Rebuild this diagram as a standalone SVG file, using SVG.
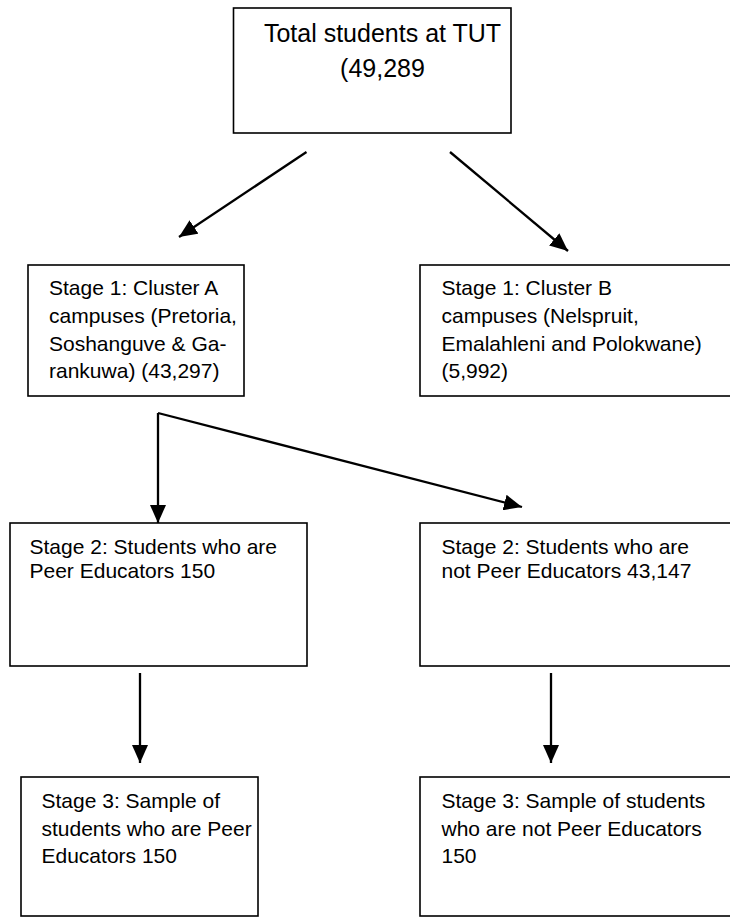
<svg xmlns="http://www.w3.org/2000/svg" width="730" height="920" viewBox="0 0 730 920">
<defs>
<style>
.box{fill:#fff;stroke:#000;stroke-width:1.6}
.t{font-family:"Liberation Sans",Arial,sans-serif;font-size:21px;fill:#000}
.tt{font-family:"Liberation Sans",Arial,sans-serif;font-size:25px;fill:#000}
.c{fill:none;stroke:#000;stroke-width:2.3}
</style>
<marker id="ah" markerUnits="userSpaceOnUse" markerWidth="18" markerHeight="16" refX="18" refY="8" orient="auto">
<path d="M0,0 L18,8 L0,16 z" fill="#000"/>
</marker>
</defs>
<rect width="730" height="920" fill="#fff"/>
<g id="top">
<rect class="box" x="233.5" y="8" width="277.5" height="125"/>
<text class="tt" x="382.5" y="42" text-anchor="middle">Total students at TUT</text>
<text class="tt" x="382.5" y="77" text-anchor="middle">(49,289</text>
</g>
<g id="stage1a">
<rect class="box" x="28" y="265" width="216" height="131"/>
<text class="t" x="49" y="295">Stage 1: Cluster A</text>
<text class="t" x="49" y="323">campuses (Pretoria,</text>
<text class="t" x="49" y="351">Soshanguve &amp; Ga-</text>
<text class="t" x="49" y="378">rankuwa) (43,297)</text>
</g>
<g id="stage1b">
<rect class="box" x="420" y="265" width="320" height="131"/>
<text class="t" x="441.5" y="295">Stage 1: Cluster B</text>
<text class="t" x="441.5" y="323">campuses (Nelspruit,</text>
<text class="t" x="441.5" y="351">Emalahleni and Polokwane)</text>
<text class="t" x="441.5" y="378">(5,992)</text>
</g>
<g id="stage2a">
<rect class="box" x="10" y="523" width="297" height="143"/>
<text class="t" x="29.5" y="554">Stage 2: Students who are</text>
<text class="t" x="29.5" y="578">Peer Educators 150</text>
</g>
<g id="stage2b">
<rect class="box" x="420" y="523" width="320" height="143"/>
<text class="t" x="441.5" y="554">Stage 2: Students who are</text>
<text class="t" x="441.5" y="578">not Peer Educators 43,147</text>
</g>
<g id="stage3a">
<rect class="box" x="21" y="777" width="237" height="139"/>
<text class="t" x="41.5" y="808">Stage 3: Sample of</text>
<text class="t" x="41.5" y="836">students who are Peer</text>
<text class="t" x="41.5" y="863">Educators 150</text>
</g>
<g id="stage3b">
<rect class="box" x="420" y="777" width="320" height="139"/>
<text class="t" x="441.5" y="808">Stage 3: Sample of students</text>
<text class="t" x="441.5" y="836">who are not Peer Educators</text>
<text class="t" x="441.5" y="863">150</text>
</g>
<g id="connectors">
<line class="c" x1="306.5" y1="152" x2="179" y2="237" marker-end="url(#ah)"/>
<line class="c" x1="450" y1="152" x2="568" y2="251" marker-end="url(#ah)"/>
<line class="c" x1="158" y1="413" x2="158" y2="523" marker-end="url(#ah)"/>
<line class="c" x1="158" y1="413" x2="522" y2="507" marker-end="url(#ah)"/>
<line class="c" x1="140" y1="673" x2="140" y2="763" marker-end="url(#ah)"/>
<line class="c" x1="551" y1="673" x2="551" y2="763" marker-end="url(#ah)"/>
</g>
</svg>
